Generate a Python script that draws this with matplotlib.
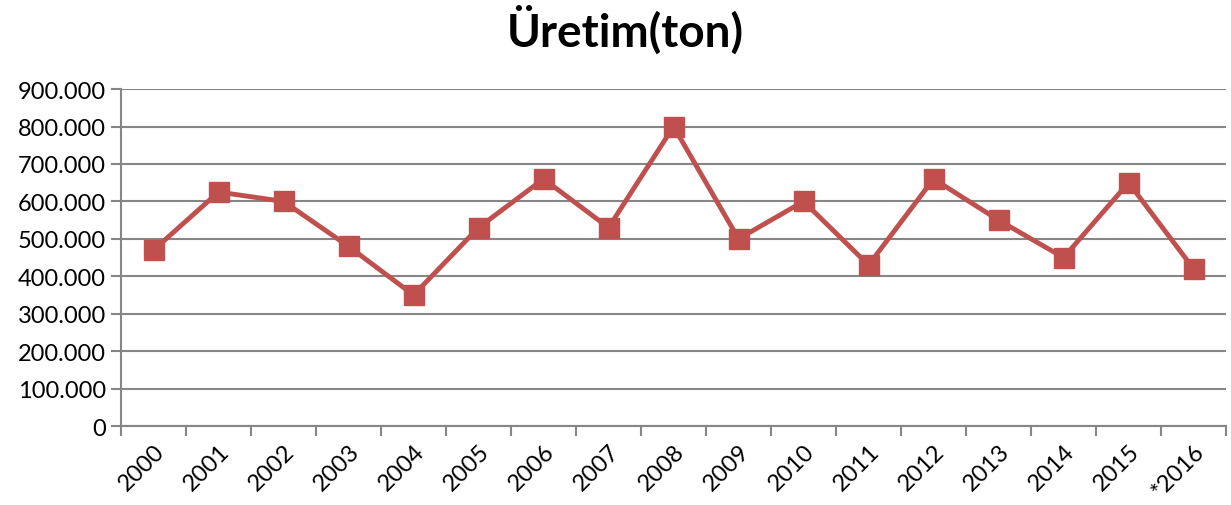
import matplotlib.pyplot as plt
from matplotlib.ticker import FuncFormatter, FixedLocator

plt.rcParams['font.family'] = ['Lato', 'DejaVu Sans']

# veriler
years = ['2000', '2001', '2002', '2003', '2004', '2005', '2006', '2007', '2008',
         '2009', '2010', '2011', '2012', '2013', '2014', '2015', '*2016']
uretim = [470000, 625000, 600000, 480000, 350000, 530000, 660000, 530000, 800000,
          500000, 600000, 430000, 660000, 550000, 450000, 650000, 420000]

fig = plt.figure(figsize=(12.31, 5.06), dpi=100)
ax = fig.add_axes([0.0983, 0.156, 0.8977, 0.666])

x = range(len(years))
ax.plot(x, uretim, color='#C0504D', lw=3.5, marker='s', ms=14, zorder=3)

ax.set_xlim(-0.5, len(years) - 0.5)
ax.set_ylim(0, 900000)
ax.set_yticks(range(0, 900001, 100000))
ax.yaxis.set_major_formatter(FuncFormatter(lambda v, p: f'{int(v):,}'.replace(',', '.')))
ax.set_xticks(list(x))
ax.set_xticklabels(years, rotation=45, ha='right', rotation_mode='anchor', fontsize=17)
ax.xaxis.set_minor_locator(FixedLocator([i - 0.5 for i in range(len(years) + 1)]))
ax.tick_params(axis='x', which='major', length=0, pad=10)
ax.tick_params(axis='x', which='minor', length=7, width=1.5, color='#868686')
ax.tick_params(axis='y', length=7, width=1.5, color='#868686', labelsize=17, pad=4)

ax.grid(axis='y', color='#868686', lw=1.5)
ax.set_axisbelow(True)
for s in ['top', 'right']:
    ax.spines[s].set_visible(False)
for s in ['left', 'bottom']:
    ax.spines[s].set_color('#868686')
    ax.spines[s].set_linewidth(1.5)

fig.text(0.508, 0.94, 'Üretim(ton)', ha='center', va='center', fontsize=33, fontweight='bold')

fig.savefig('out.png', dpi=100)
